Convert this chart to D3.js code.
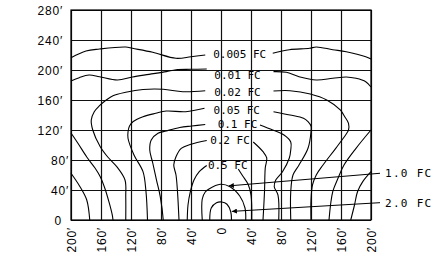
<!DOCTYPE html>
<html>
<head>
<meta charset="utf-8">
<script src="https://cdn.jsdelivr.net/npm/d3@7"></script>
<style>
body { margin: 0; background: #fff; }
svg text { font-family: "Liberation Sans", Arial, sans-serif; font-size: 12px; letter-spacing: 0.8px; fill: #000; }
.grid line { stroke: #111; stroke-width: 1.2; }
.grid .domain { display: none; }
.frame { fill: none; stroke: #000; stroke-width: 1.2; }
.contour { fill: none; stroke: #000; stroke-width: 1.1; }
.leader { fill: none; stroke: #000; stroke-width: 1; }
svg text.lbl { font-family: "DejaVu Sans Mono", monospace; font-size: 11px; letter-spacing: 0; }
svg text.call { letter-spacing: 1.3px; }
</style>
</head>
<body>
<div class="container"></div>
<script>
var xTicks = [-200, -160, -120, -80, -40, 0, 40, 80, 120, 160, 200];
var xTickLabels = ["200′", "160′", "120′", "80′", "40′", "0", "40′", "80′", "120′", "160′", "200′"];
var yTicks = [0, 40, 80, 120, 160, 200, 240, 280];
var yTickLabels = ["0", "40′", "80′", "120′", "160′", "200′", "240′", "280′"];

// iso-footcandle lines, [x ft, y ft]
var fc0005L = [[-200,216.4],[-180,225.3],[-162,228],[-127,230.7],[-118,228.9],[-91,223.6],[-60,215.6],[-40,217.7],[-21,220]];
var fc0005R = [[69,222.3],[91,227.1],[118,228.9],[127,230.7],[149,227.1],[167,224.4],[193,217.7],[200,214.7]];
var fc001L = [[-200,185.3],[-189,189.8],[-176,193.3],[-162,191.1],[-138,186.7],[-118,190.7],[-96,194.2],[-73,197.8],[-60,200.4],[-40,200.9],[-19,201.3]];
var fc001R = [[70,197.8],[87,196.9],[104,191.1],[127,186.7],[149,188.9],[167,190.7],[180,188.9],[193,184.4],[200,177.3]];
var fc002L = [[-21,172.4],[-51,171.1],[-77,174.3],[-104,174],[-127,170.3],[-144,165.7],[-153,160],[-162,152.4],[-169,144.4],[-173,133.3],[-171,120],[-161,97.7],[-151,84],[-139,71.1],[-128,53.3],[-127,31.1],[-127,0]];
var fc002R = [[70,172],[92,172.4],[119,168],[141,160],[159,146.7],[165,137.7],[170,128.9],[170,120],[167,114.7],[153,95.6],[136,73.3],[127,60],[122,46.7],[120,26.7],[120,0]];
var fc005L = [[-22,148.9],[-47,144.4],[-73,145.3],[-87,142.3],[-104,137.7],[-117,131.3],[-122,125.3],[-124,117.3],[-124,109],[-116,86.7],[-104,64.4],[-100,37.7],[-98,0]];
var fc005R = [[70,144.4],[92,140],[110,135.6],[116,131.1],[120,125.3],[120,117.7],[116,95.6],[104,73.3],[96,60],[93,37.7],[93,0]];
var fc01L = [[-21,127.3],[-39,125.3],[-55,123.3],[-73,118.7],[-84,115.6],[-93,106.7],[-95,93.3],[-91,76],[-86,53.3],[-81,31.1],[-77,0]];
var fc01R = [[52,126.7],[69,120],[84,113.3],[93,104],[93,93.3],[91,82.3],[82,64.4],[73,53.3],[71,44.4],[76,33.3],[77,0]];
var fc02L = [[-19,106],[-40,101],[-53,95.6],[-60,84.4],[-63,73.3],[-60,60],[-58,37.7],[-56,0]];
var fc02R = [[43,104],[56,91.1],[61,82.7],[59,69.3],[58,37.7],[56,0]];
var fc05L = [[-19,72.7],[-29,64.4],[-36,53.3],[-41,37.3],[-44,20],[-45,0]];
var fc05R = [[23,68],[29,58.7],[36,48],[40,33.3],[41,0]];
var fc10 = [[-25,0],[-25,28],[-21,37.3],[-16,41.3],[-1,47.6],[12,44.4],[25,32],[32,16],[33,0]];
var fc20 = [[-15,0],[-13,16],[-6,23],[1,24],[8,21],[13,11],[14,0]];
// unlabelled outer lines
var edgeL1 = [[-200,116],[-191,102.7],[-179,84],[-168,69.3],[-161,57.7],[-155,42.7],[-149,22.7],[-145,6.7],[-144,0]];
var edgeL2 = [[-200,62.3],[-188,44.4],[-179,26.7],[-175,0]];
var edgeR1 = [[200,120],[180,95.6],[164,73.3],[156,55.6],[149,37.7],[144,0]];
var edgeR2 = [[200,64.4],[189,51.1],[182,37.7],[178,20],[173,0]];

var levels = ["0.005 FC", "0.01 FC", "0.02 FC", "0.05 FC", "0.1 FC", "0.2 FC", "0.5 FC"];
var levelAt = [[25,221.3],[22,193.3],[22,171.1],[21,146.7],[22,127.6],[12,106.7],[9,73.3]];
var calloutLevels = ["1.0 FC", "2.0 FC"];
var callouts = [[[212,62.3],[10.5,45.5]], [[212,23.1],[14.5,11.5]]];

const WIDTH = 444, HEIGHT = 261;
const LEFT = 71, TOP = 10, INNER_W = 300, INNER_H = 210;

var svg = d3.select('.container').append('svg')
	.attr('width', WIDTH)
	.attr('height', HEIGHT);

var x = d3.scaleLinear().domain([-200, 200]).range([LEFT, LEFT + INNER_W]);
var y = d3.scaleLinear().domain([0, 280]).range([TOP + INNER_H, TOP]);

// grid with the tick labels
var gy = svg.append('g').attr('class', 'grid')
	.attr('transform', 'translate(' + LEFT + ',0)')
	.call(d3.axisLeft(y).tickValues(yTicks).tickSize(-INNER_W).tickPadding(8)
		.tickFormat(function(d, i) { return yTickLabels[i]; }));
gy.selectAll('text').attr('dy', '0.4em').attr('x', function(d, i) {
	var s = yTickLabels[i];
	return s.length < 3 ? -9 : (s.length < 4 ? -2 : -8);
});

var gx = svg.append('g').attr('class', 'grid')
	.attr('transform', 'translate(0,' + (TOP + INNER_H) + ')')
	.call(d3.axisBottom(x).tickValues(xTicks).tickSize(-INNER_H)
		.tickFormat(function(d, i) { return xTickLabels[i]; }));
gx.selectAll('text')
	.attr('y', 0).attr('x', 0)
	.attr('dy', '0.36em')
	.attr('transform', 'translate(0,7) rotate(-90)')
	.style('text-anchor', 'end');

svg.append('rect').attr('class', 'frame')
	.attr('x', x(-200)).attr('y', y(280))
	.attr('width', x(200) - x(-200)).attr('height', y(0) - y(280));

var line = d3.line()
	.x(function(d) { return x(d[0]); })
	.y(function(d) { return y(d[1]); })
	.curve(d3.curveCatmullRom.alpha(0.5));

var paths = [fc0005L, fc0005R, fc001L, fc001R, fc002L, fc002R, fc005L, fc005R,
	fc01L, fc01R, fc02L, fc02R, fc05L, fc05R, fc10, fc20, edgeL1, edgeL2, edgeR1, edgeR2];

svg.append('g').selectAll('path').data(paths)
	.enter().append('path')
	.attr('class', 'contour')
	.attr('d', line);

svg.append('g').selectAll('text').data(levels)
	.enter().append('text')
	.attr('class', 'lbl')
	.attr('x', function(d, i) { return x(levelAt[i][0]); })
	.attr('y', function(d, i) { return y(levelAt[i][1]); })
	.attr('dy', '0.36em')
	.attr('text-anchor', 'middle')
	.text(function(d) { return d; });

svg.append('defs').append('marker')
	.attr('id', 'arrow')
	.attr('viewBox', '0 0 10 10')
	.attr('refX', 10).attr('refY', 5)
	.attr('markerWidth', 9).attr('markerHeight', 5)
	.attr('markerUnits', 'userSpaceOnUse')
	.attr('orient', 'auto')
	.append('path').attr('d', 'M0,0L10,5L0,10Z').attr('fill', '#000');

svg.append('g').selectAll('path').data(callouts)
	.enter().append('path')
	.attr('class', 'leader')
	.attr('marker-end', 'url(#arrow)')
	.attr('d', d3.line().x(function(d) { return x(d[0]); }).y(function(d) { return y(d[1]); }));

svg.append('g').selectAll('text').data(calloutLevels)
	.enter().append('text')
	.attr('class', 'lbl call')
	.attr('x', function(d, i) { return x(callouts[i][0][0]) + 5; })
	.attr('y', function(d, i) { return y(callouts[i][0][1]); })
	.attr('dy', '0.36em')
	.text(function(d) { return d; });
</script>
</body>
</html>
